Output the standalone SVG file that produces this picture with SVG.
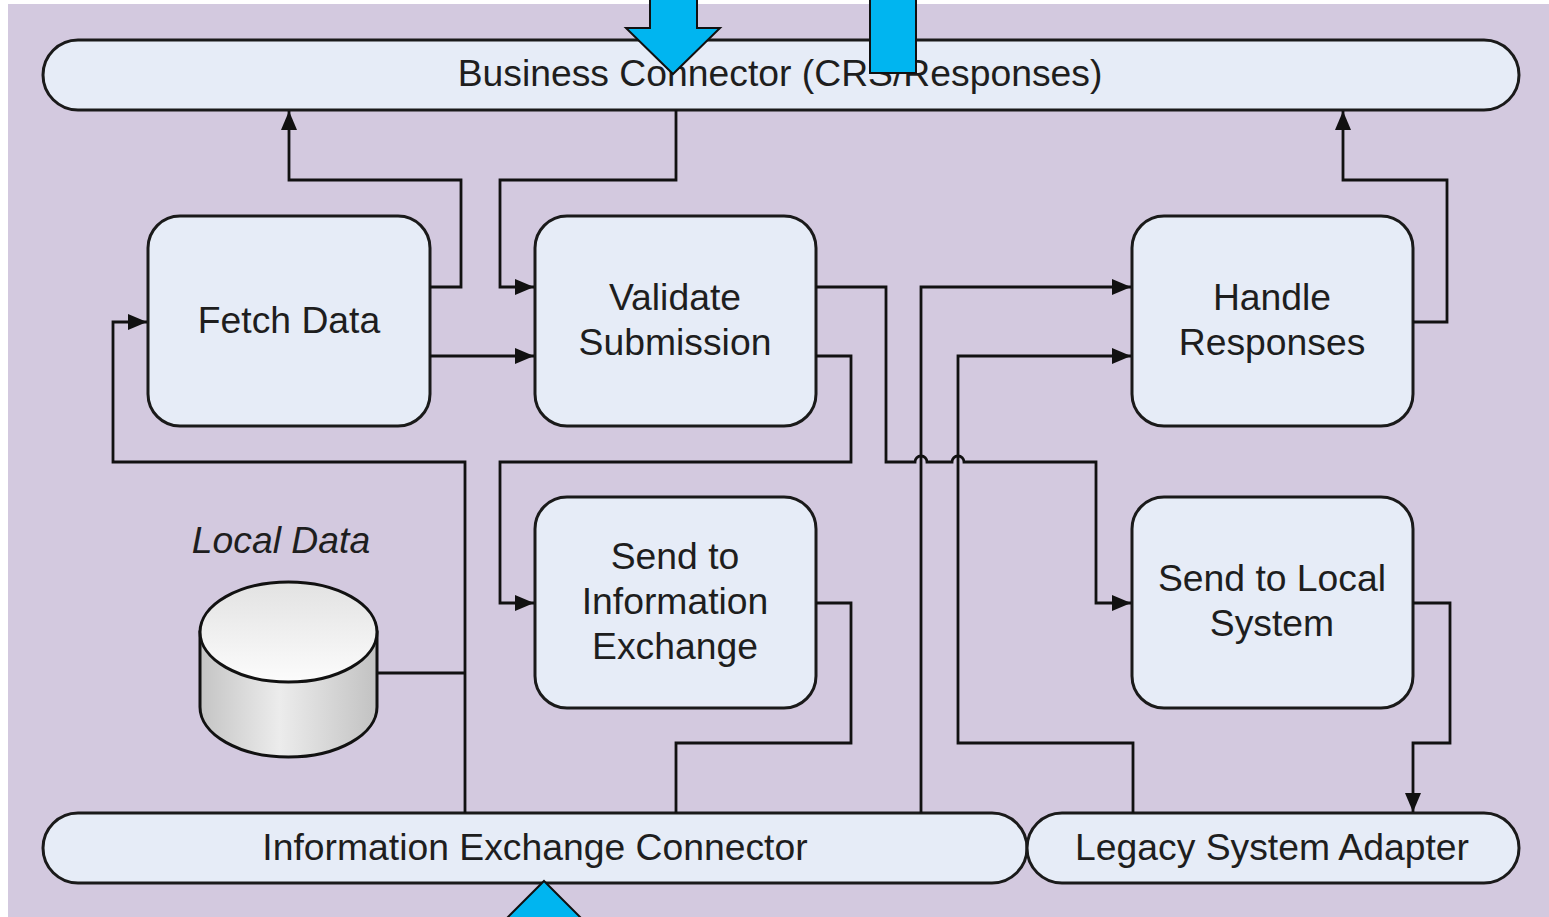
<svg xmlns="http://www.w3.org/2000/svg" width="1549" height="917" viewBox="0 0 1549 917">
<defs>
<style>
.node{fill:#E6ECF7;stroke:#1a1a1a;stroke-width:3}
.lbl{font-family:"Liberation Sans",Arial,sans-serif;font-size:37.3px;fill:#1e1e1e;text-anchor:middle}
.conn path{fill:none;stroke:#111;stroke-width:2.8}
.blue{fill:#00B5F0;stroke:#111;stroke-width:2}
</style>
<marker id="ah" markerUnits="userSpaceOnUse" markerWidth="22" markerHeight="18" refX="19" refY="8" orient="auto">
<path d="M0,0 L19,8 L0,16 z" fill="#111"/>
</marker>
<linearGradient id="cylBody" x1="0" y1="0" x2="1" y2="0">
<stop offset="0" stop-color="#c4c4c4"/>
<stop offset="0.45" stop-color="#ececec"/>
<stop offset="1" stop-color="#c2c2c2"/>
</linearGradient>
<linearGradient id="cylTop" x1="0" y1="0" x2="0" y2="1">
<stop offset="0" stop-color="#e2e2e2"/>
<stop offset="1" stop-color="#fcfcfc"/>
</linearGradient>
</defs>
<rect x="0" y="0" width="1549" height="917" fill="#ffffff"/>
<rect x="8" y="4" width="1541" height="913" fill="#D3C9DF"/>

<g id="business-connector">
<rect class="node" x="43" y="40" width="1476" height="70" rx="35" ry="35"/>
<text class="lbl" x="780" y="86">Business Connector (CRS/Responses)</text>
</g>
<g id="info-exchange-connector">
<rect class="node" x="43" y="813" width="984" height="70" rx="35" ry="35"/>
<text class="lbl" x="535" y="860">Information Exchange Connector</text>
</g>
<g id="legacy-adapter">
<rect class="node" x="1027" y="813" width="492" height="70" rx="35" ry="35"/>
<text class="lbl" x="1272" y="860">Legacy System Adapter</text>
</g>
<g id="fetch-data">
<rect class="node" x="148" y="216" width="282" height="210" rx="32" ry="32"/>
<text class="lbl" x="289" y="333">Fetch Data</text>
</g>
<g id="validate-submission">
<rect class="node" x="535" y="216" width="281" height="210" rx="32" ry="32"/>
<text class="lbl" x="675" y="310">Validate</text>
<text class="lbl" x="675" y="355">Submission</text>
</g>
<g id="send-to-ie">
<rect class="node" x="535" y="497" width="281" height="211" rx="32" ry="32"/>
<text class="lbl" x="675" y="569">Send to</text>
<text class="lbl" x="675" y="614">Information</text>
<text class="lbl" x="675" y="659">Exchange</text>
</g>
<g id="handle-responses">
<rect class="node" x="1132" y="216" width="281" height="210" rx="32" ry="32"/>
<text class="lbl" x="1272" y="310">Handle</text>
<text class="lbl" x="1272" y="355">Responses</text>
</g>
<g id="send-to-local">
<rect class="node" x="1132" y="497" width="281" height="211" rx="32" ry="32"/>
<text class="lbl" x="1272" y="591">Send to Local</text>
<text class="lbl" x="1272" y="636">System</text>
</g>
<g id="local-data">
<text class="lbl" x="281" y="553" font-style="italic">Local Data</text>
<path d="M200,632 V707 A88.5,50 0 0 0 377,707 V632 Z" fill="url(#cylBody)" stroke="#111" stroke-width="3"/>
<ellipse cx="288.5" cy="632" rx="88.5" ry="50" fill="url(#cylTop)" stroke="#111" stroke-width="3"/>
</g>

<g id="connectors" class="conn">
<path d="M430,287 H461 V180 H289 V111" marker-end="url(#ah)"/>
<path d="M676,110 V180 H500 V287 H534" marker-end="url(#ah)"/>
<path d="M430,356 H534" marker-end="url(#ah)"/>
<path d="M816,287 H886 V462 H915 A6,6 0 0 1 927,462 H952 A6,6 0 0 1 964,462 H1096 V603 H1131" marker-end="url(#ah)"/>
<path d="M816,356 H851 V462 H500 V603 H534" marker-end="url(#ah)"/>
<path d="M465,813 V462 H113 V322 H147" marker-end="url(#ah)"/>
<path d="M377,673 H465"/>
<path d="M816,603 H851 V743 H676 V813"/>
<path d="M921,813 V287 H1131" marker-end="url(#ah)"/>
<path d="M1133,813 V743 H958 V356 H1131" marker-end="url(#ah)"/>
<path d="M1413,322 H1447 V180 H1343 V111" marker-end="url(#ah)"/>
<path d="M1413,603 H1450 V743 H1413 V812" marker-end="url(#ah)"/>
</g>

<g id="external-arrows">
<polygon class="blue" points="650,-5 697,-5 697,28 720,28 673,74 626,28 650,28"/>
<rect class="blue" x="870" y="-5" width="46" height="78"/>
<polygon class="blue" points="544,881 591,928 567,928 567,940 521,940 521,928 497,928"/>
</g>
</svg>
